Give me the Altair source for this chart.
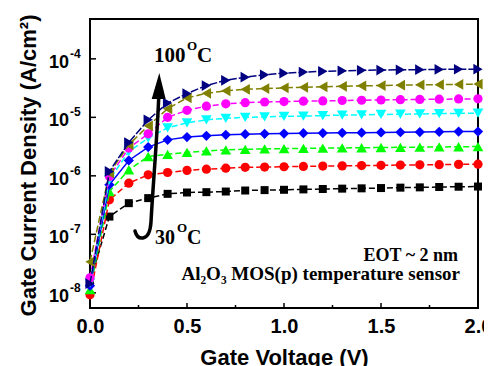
import altair as alt
import pandas as pd

# ---------------- data ----------------
VOLTAGE = [0.0, 0.1, 0.2, 0.3, 0.4, 0.5, 0.6, 0.7, 0.8, 0.9, 1.0,
           1.1, 1.2, 1.3, 1.4, 1.5, 1.6, 1.7, 1.8, 1.9, 2.0]
TEMPERATURES = ["30", "40", "50", "60", "70", "80", "90", "100"]

J_30C = [1.54e-8, 2.01e-7, 3.41e-7, 4.16e-7, 4.92e-7, 5.19e-7, 5.26e-7, 5.39e-7, 5.61e-7, 5.70e-7, 5.77e-7,
         5.86e-7, 5.95e-7, 6.04e-7, 6.11e-7, 6.18e-7, 6.28e-7, 6.35e-7, 6.44e-7, 6.51e-7, 6.56e-7]
J_40C = [9.25e-9, 3.89e-7, 7.50e-7, 1.04e-6, 1.14e-6, 1.24e-6, 1.30e-6, 1.35e-6, 1.40e-6, 1.41e-6, 1.43e-6,
         1.45e-6, 1.47e-6, 1.48e-6, 1.50e-6, 1.51e-6, 1.53e-6, 1.54e-6, 1.55e-6, 1.57e-6, 1.58e-6]
J_50C = [1.13e-8, 5.39e-7, 1.27e-6, 2.14e-6, 2.33e-6, 2.52e-6, 2.67e-6, 2.78e-6, 2.84e-6, 2.88e-6, 2.92e-6,
         2.95e-6, 2.98e-6, 3.00e-6, 3.02e-6, 3.05e-6, 3.07e-6, 3.10e-6, 3.12e-6, 3.14e-6, 3.17e-6]
J_60C = [1.32e-8, 7.02e-7, 1.83e-6, 3.10e-6, 4.12e-6, 4.59e-6, 4.83e-6, 5.02e-6, 5.16e-6, 5.22e-6, 5.28e-6,
         5.35e-6, 5.39e-6, 5.43e-6, 5.47e-6, 5.52e-6, 5.56e-6, 5.61e-6, 5.65e-6, 5.70e-6, 5.72e-6]
J_70C = [1.48e-8, 8.55e-7, 2.60e-6, 4.41e-6, 6.62e-6, 8.05e-6, 9.06e-6, 9.61e-6, 1.00e-5, 1.02e-5, 1.04e-5,
         1.05e-5, 1.07e-5, 1.09e-5, 1.10e-5, 1.12e-5, 1.13e-5, 1.14e-5, 1.16e-5, 1.17e-5, 1.18e-5]
J_80C = [1.80e-8, 9.73e-7, 2.98e-6, 5.22e-6, 1.00e-5, 1.32e-5, 1.55e-5, 1.70e-5, 1.78e-5, 1.83e-5, 1.86e-5,
         1.89e-5, 1.91e-5, 1.94e-5, 1.96e-5, 1.98e-5, 2.00e-5, 2.02e-5, 2.04e-5, 2.06e-5, 2.07e-5]
J_90C = [3.39e-8, 1.12e-6, 3.39e-6, 7.16e-6, 1.40e-5, 2.15e-5, 2.57e-5, 2.84e-5, 3.01e-5, 3.11e-5, 3.19e-5,
         3.26e-5, 3.32e-5, 3.39e-5, 3.46e-5, 3.50e-5, 3.55e-5, 3.60e-5, 3.62e-5, 3.66e-5, 3.70e-5]
J_100C = [1.43e-8, 1.19e-6, 3.71e-6, 9.06e-6, 1.75e-5, 2.55e-5, 3.50e-5, 4.30e-5, 4.85e-5, 5.33e-5, 5.70e-5,
          5.93e-5, 6.11e-5, 6.24e-5, 6.36e-5, 6.44e-5, 6.49e-5, 6.53e-5, 6.59e-5, 6.64e-5, 6.67e-5]
SERIES = [J_30C, J_40C, J_50C, J_60C, J_70C, J_80C, J_90C, J_100C]

X_TICK_VALUES = [0.0, 0.5, 1.0, 1.5, 2.0]
X_MINOR_TICKS = [0.25, 0.75, 1.25, 1.75]
X_MAJOR_INNER = [0.5, 1.0, 1.5]
Y_TICK_VALUES = [1e-8, 1e-7, 1e-6, 1e-5, 1e-4]
Y_TICK_EXPONENTS = ["-8", "-7", "-6", "-5", "-4"]

X_TITLE = "Gate Voltage (V)"
Y_TITLE = "Gate Current Density (A/cm\u00b2)"
NOTE_EOT = "EOT ~ 2 nm"
NOTE_DEVICE = "Al\u2082O\u2083 MOS(p) temperature sensor"

# ---------------- styles ----------------
STYLES = {
    "30": ("#000000", "square", 64, [6, 3]),
    "40": ("#ff0000", "circle", 85, [6, 3]),
    "50": ("#00ff00", "triangle-up", 115, [6, 3]),
    "60": ("#0000ff", "diamond", 105, None),
    "70": ("#00ffff", "triangle-down", 115, [6, 3]),
    "80": ("#ff00ff", "circle", 85, [6, 3]),
    "90": ("#808000", "triangle-left", 115, [7, 3]),
    "100": ("#000080", "triangle-right", 115, [8, 2]),
}

SANS = "Liberation Sans"
SERIF = "Liberation Serif"

x_scale = alt.Scale(domain=[0, 2], nice=False, zero=False)
y_scale = alt.Scale(type="log", domain=[5.5e-9, 4.8e-4], nice=False)

x_enc = alt.X(
    "V:Q", scale=x_scale, title=X_TITLE,
    axis=alt.Axis(values=X_TICK_VALUES, format=".1f", labelFont=SANS, labelFontWeight="bold",
                  labelFontSize=20, labelColor="black", labelPadding=8.5, ticks=False, tickSize=0,
                  domain=False, grid=False, labelFlush=False,
                  titleFont=SANS, titleFontWeight="bold", titleFontSize=22, titleColor="black",
                  titleX=194, titleY=56, titleBaseline="alphabetic", titleAlign="center"),
)
y_enc = alt.Y(
    "J:Q", scale=y_scale, title=Y_TITLE,
    axis=alt.Axis(labels=False, ticks=False, domain=False, grid=False,
                  titleFont=SANS, titleFontWeight="bold", titleFontSize=22, titleColor="black",
                  titleX=-55, titleY=146, titleAngle=270, titleBaseline="alphabetic",
                  titleAlign="center"),
)

layers = []

# inward ticks
layers.append(
    alt.Chart(pd.DataFrame({"V": X_MAJOR_INNER})).mark_rule(color="black", strokeWidth=1.5)
    .encode(x=x_enc, y=alt.value(289), y2=alt.value(284))
)
layers.append(
    alt.Chart(pd.DataFrame({"V": X_MINOR_TICKS})).mark_rule(color="black", strokeWidth=1.5)
    .encode(x=x_enc, y=alt.value(289), y2=alt.value(286))
)
layers.append(
    alt.Chart(pd.DataFrame({"J": Y_TICK_VALUES})).mark_rule(color="black", strokeWidth=1.5)
    .encode(y=y_enc, x=alt.value(0), x2=alt.value(6))
)

# series
for temp, values in zip(TEMPERATURES, SERIES):
    color, shape, size, dash = STYLES[temp]
    df = pd.DataFrame({"V": VOLTAGE, "J": values})
    line_kw = dict(color=color, strokeWidth=1.5)
    if dash:
        line_kw["strokeDash"] = dash
    layers.append(alt.Chart(df).mark_line(**line_kw).encode(x=x_enc, y=y_enc))
    layers.append(
        alt.Chart(df).mark_point(shape=shape, size=size, filled=True, color=color, opacity=1)
        .encode(x=x_enc, y=y_enc)
    )

# y tick labels 10^n
tick_df = pd.DataFrame({"J": Y_TICK_VALUES, "base": ["10"] * len(Y_TICK_VALUES), "exp": Y_TICK_EXPONENTS})
layers.append(
    alt.Chart(tick_df).mark_text(align="right", baseline="alphabetic", font=SANS, fontWeight="bold",
                                 fontSize=18, color="black", dy=9)
    .encode(y=y_enc, x=alt.value(-21), text="base:N")
)
layers.append(
    alt.Chart(tick_df).mark_text(align="left", baseline="alphabetic", font=SANS, fontWeight="bold",
                                 fontSize=12, color="black", dy=-1)
    .encode(y=y_enc, x=alt.value(-20), text="exp:N")
)


def note(text, x, y, size, align="left", font=SERIF):
    return (alt.Chart(pd.DataFrame({"t": [text]}))
            .mark_text(align=align, baseline="alphabetic", font=font, fontWeight="bold",
                       fontSize=size, color="black")
            .encode(x=alt.value(x), y=alt.value(y), text="t:N"))


layers += [
    note("100", 64, 43, 21), note("O", 97, 31, 13), note("C", 107, 43, 21),
    note("30", 65, 225, 20), note("O", 87, 213, 13), note("C", 97, 225, 20),
    note(NOTE_EOT, 368, 242, 18, align="right"),
    note(NOTE_DEVICE, 370, 261, 19, align="right"),
]

# curved arrow (pixel-unit custom symbols, size 4 -> 1 unit = 1 px)
STEM = "M -15,81 Q -13,89 -7,88 Q 0,87 1,72 C 3,35 7,-10 8.7,-52"
HEAD = "M 1.7,-51 L 15.7,-51 L 9.3,-77 Z"
arrow_df = pd.DataFrame({"a": [0]})
layers.append(
    alt.Chart(arrow_df).mark_point(shape=STEM, size=4, filled=False, color="black", strokeWidth=3.5,
                                   opacity=1, strokeCap="round")
    .encode(x=alt.value(60), y=alt.value(131))
)
layers.append(
    alt.Chart(arrow_df).mark_point(shape=HEAD, size=4, filled=True, color="black", opacity=1)
    .encode(x=alt.value(60), y=alt.value(131))
)

chart = (
    alt.layer(*layers)
    .properties(width=388, height=289,
                padding={"left": 82, "top": 11, "right": 6, "bottom": 58},
                autosize=alt.AutoSizeParams(type="none"),
                background="white")
    .configure_view(stroke="black", strokeWidth=2)
)

chart.save("out.html", embed_options={"renderer": "svg", "actions": False})
